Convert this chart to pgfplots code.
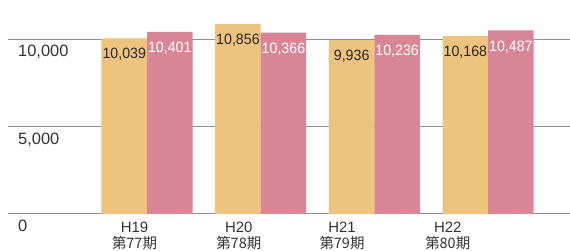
\documentclass[border=0pt]{standalone}
\usepackage{fontspec}
\setmainfont{Liberation Sans}
\newfontfamily\cjk{Noto Sans CJK JP}
\newfontfamily\narrow[FakeStretch=0.95]{Liberation Sans}
\usepackage{pgfplots}
\pgfplotsset{compat=1.18}
\definecolor{orng}{HTML}{EEC37D}
\definecolor{pnk}{HTML}{D88696}
\definecolor{gridc}{HTML}{8E8E8E}
\definecolor{txt}{HTML}{333333}
\begin{document}
\begin{tikzpicture}
\begin{axis}[
  at={(8bp,37bp)}, anchor=south west,
  scale only axis, width=562bp, height=214bp,
  xmin=-1.2225, xmax=3.7203, ymin=0, ymax=12229,
  ybar=0pt, bar width=45.5bp,
  axis line style={draw=none},
  ytick={0,5000,10000}, scaled y ticks=false,
  ymajorgrids, grid style={gridc, line width=1bp},
  major tick length=0pt,
  /pgf/number format/.cd, 1000 sep={,}, assume math mode=true, /pgfplots/.cd,
  yticklabel style={anchor=north west, inner sep=0pt, xshift=10bp, yshift=-6bp, font=\fontsize{16.5}{18}\selectfont, text=txt},
  xtick={-0.11,0.807,1.715,2.645},
  xticklabels={H19\\{\cjk\fontsize{14.5}{15}\selectfont 第77期},H20\\{\cjk\fontsize{14.5}{15}\selectfont 第78期},H21\\{\cjk\fontsize{14.5}{15}\selectfont 第79期},H22\\{\cjk\fontsize{14.5}{15}\selectfont 第80期}},
  xticklabel style={align=center, anchor=north, inner sep=0pt, yshift=-8bp, font=\fontsize{15}{16}\selectfont, text=txt},
  nodes near coords,
  nodes near coords style={anchor=north, inner sep=0pt, yshift=-10bp, font=\narrow\fontsize{15}{16}\selectfont},
]
\addplot[fill=orng, draw=none, nodes near coords style={text=black!85}] coordinates {(0,10039) (1,10856) (2,9936) (3,10168)};
\addplot[fill=pnk, draw=none, nodes near coords style={text=white}] coordinates {(0,10401) (1,10366) (2,10236) (3,10487)};
\end{axis}
\pgfresetboundingbox
\useasboundingbox (0,0) rectangle (570bp,251bp);
\end{tikzpicture}
\end{document}
